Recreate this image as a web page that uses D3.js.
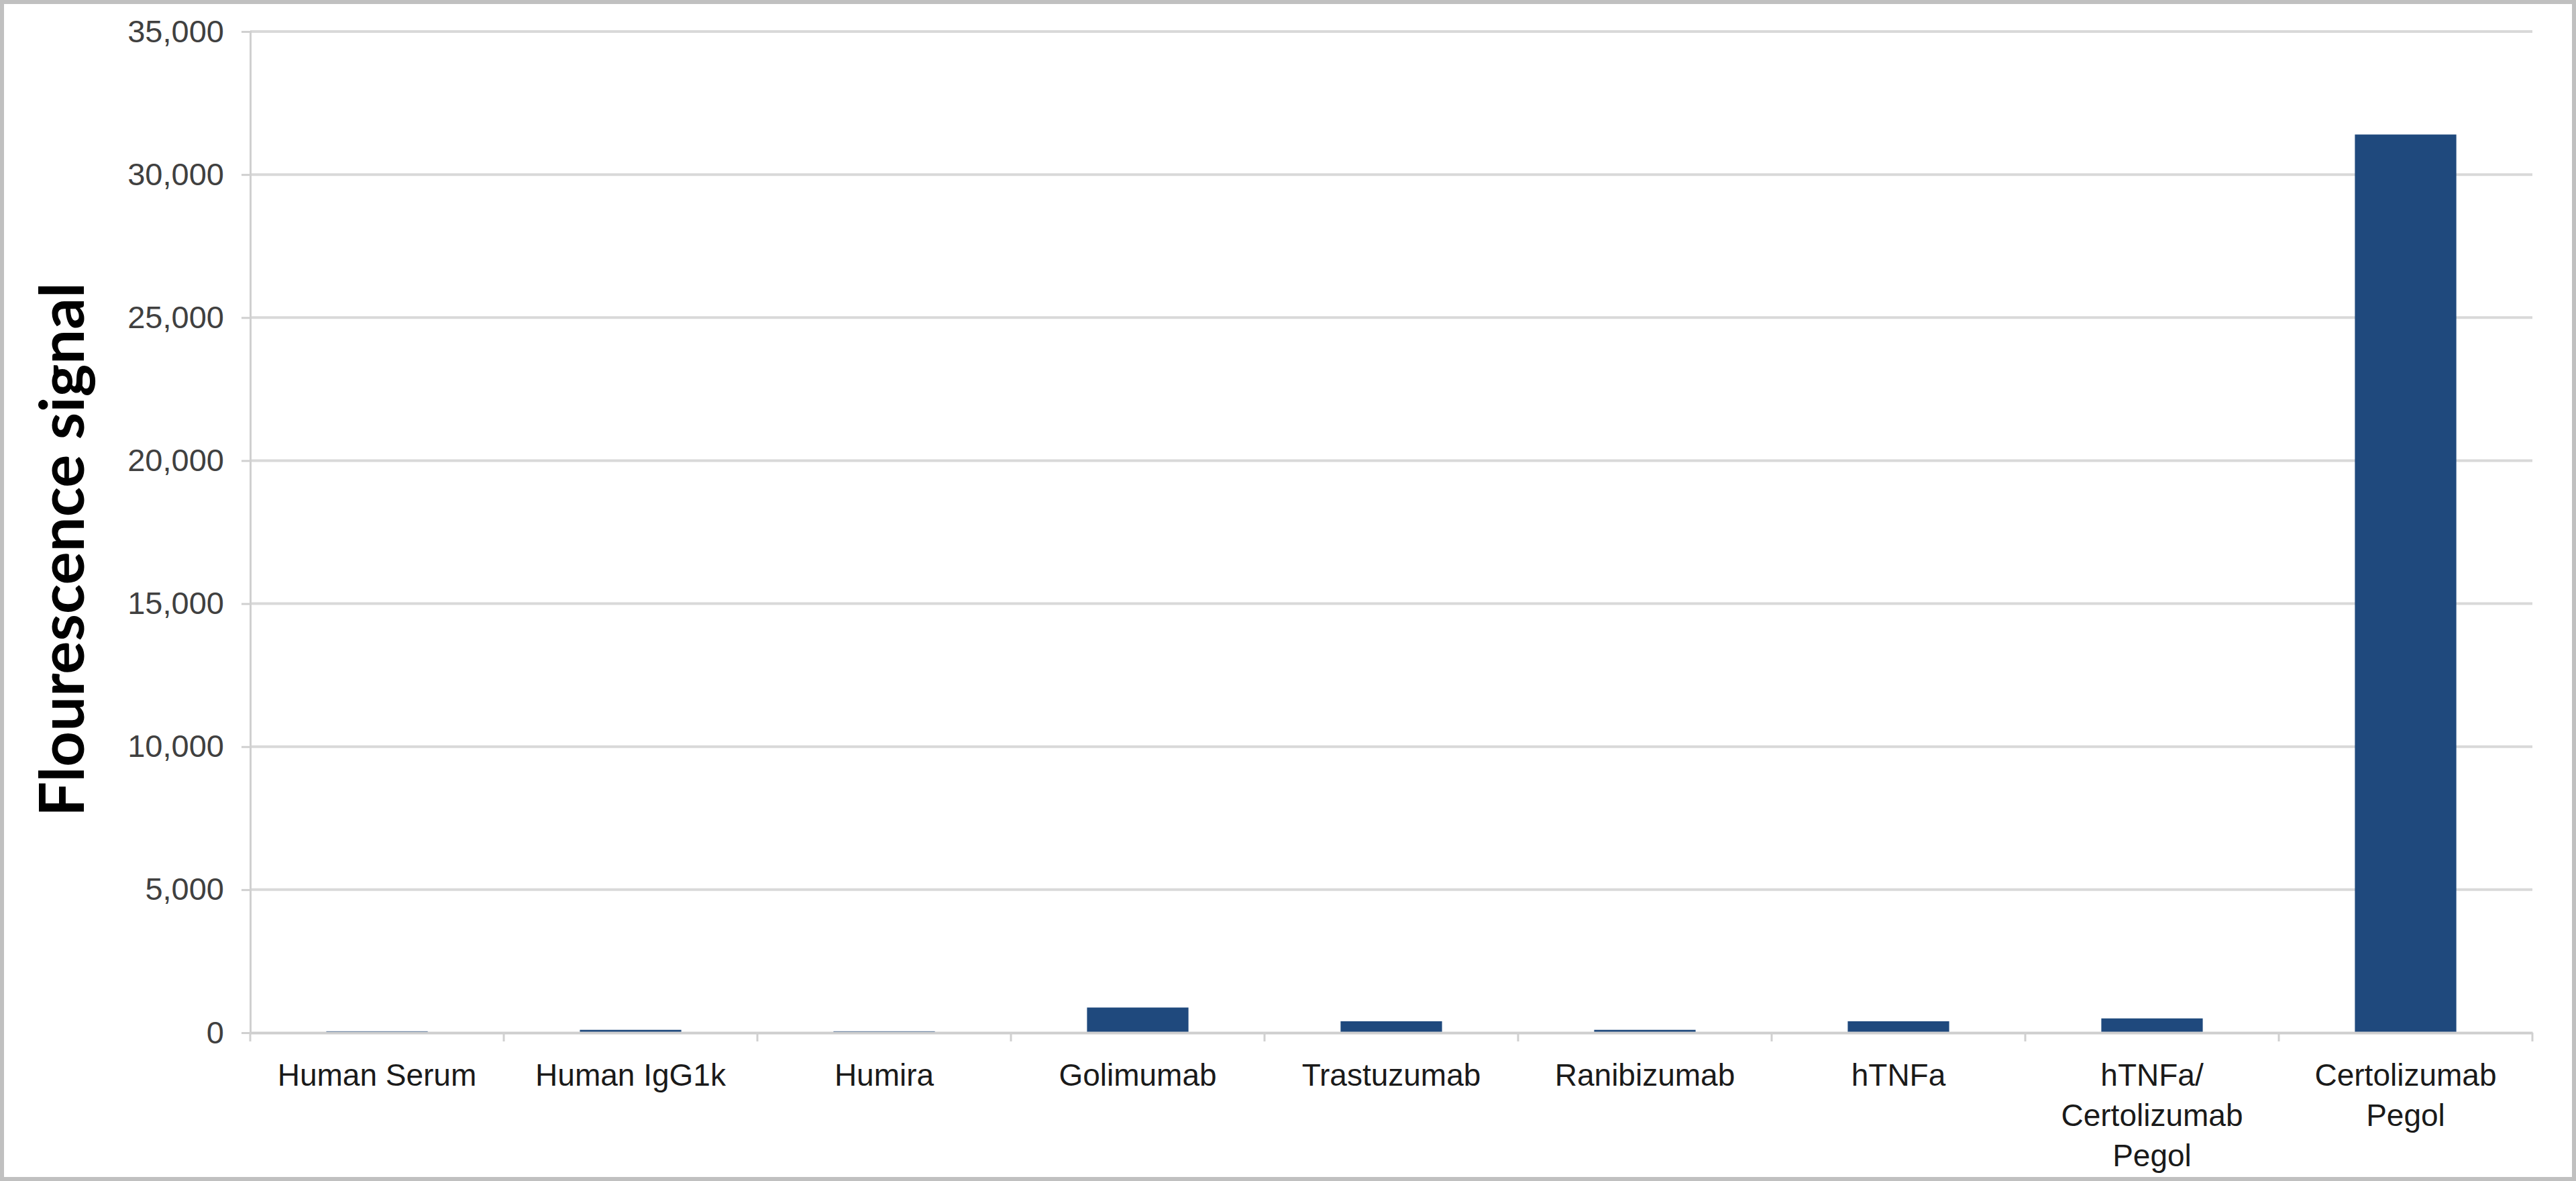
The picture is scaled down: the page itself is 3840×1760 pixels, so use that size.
<!DOCTYPE html>
<html><head><meta charset="utf-8">
<script src="https://cdn.jsdelivr.net/npm/d3@7"></script>
<style>
html,body{margin:0;padding:0;background:#fff;}
svg{display:block;}
</style></head>
<body>
<script>
const categories = [
  ["Human Serum"],
  ["Human IgG1k"],
  ["Humira"],
  ["Golimumab"],
  ["Trastuzumab"],
  ["Ranibizumab"],
  ["hTNFa"],
  ["hTNFa/", "Certolizumab", "Pegol"],
  ["Certolizumab", "Pegol"]
];
const values = [50, 100, 50, 880, 400, 100, 400, 500, 31400];
const yTicks = [0, 5000, 10000, 15000, 20000, 25000, 30000, 35000];
const yTitle = "Flourescence signal";

const W = 3840, H = 1760;
const m = {left: 373, right: 65, top: 47, bottom: 221};

const svg = d3.select("body").append("svg").attr("width", W).attr("height", H);
svg.append("rect").attr("x", 3).attr("y", 3).attr("width", W - 6).attr("height", H - 6)
  .attr("fill", "#fff").attr("stroke", "#c0c0c0").attr("stroke-width", 6);

const keys = categories.map(d => d.join(" "));
const x = d3.scaleBand().domain(keys).range([m.left, W - m.right])
  .paddingInner(0.6).paddingOuter(0.3);
const xb = d3.scaleBand().domain(keys).range([m.left, W - m.right]).padding(0);
const y = d3.scaleLinear().domain([0, 35000]).range([H - m.bottom, m.top]);

// gridlines
svg.append("g").selectAll("line").data(yTicks.filter(d => d > 0)).join("line")
  .attr("x1", m.left).attr("x2", W - m.right)
  .attr("y1", d => y(d)).attr("y2", d => y(d))
  .attr("stroke", "#d9d9d9").attr("stroke-width", 4);

// y axis
const yAxis = d3.axisLeft(y).tickValues(yTicks).tickSize(13).tickPadding(26)
  .tickFormat(d3.format(","));
const gy = svg.append("g").attr("transform", `translate(${m.left},0)`).call(yAxis);
gy.select(".domain").attr("stroke", "#d0d0d0").attr("stroke-width", 3);
gy.selectAll(".tick line").attr("stroke", "#d0d0d0").attr("stroke-width", 3);
gy.selectAll(".tick text").attr("font-family", "'Liberation Sans', Arial, sans-serif")
  .attr("font-size", 47).attr("fill", "#404040");

// bars
svg.append("g").selectAll("rect").data(values).join("rect")
  .attr("x", (d, i) => x(keys[i]))
  .attr("width", x.bandwidth())
  .attr("y", d => y(d))
  .attr("height", d => Math.max(0, y(0) - y(d)))
  .attr("fill", "#1f497d");

// x axis
const xAxis = d3.axisBottom(xb).tickSize(0).tickFormat("");
const gx = svg.append("g").attr("transform", `translate(0,${H - m.bottom})`).call(xAxis);
gx.select(".domain").attr("stroke", "#cfcfcf").attr("stroke-width", 4);
// boundary ticks
const bounds = keys.map(k => xb(k)).concat([W - m.right]);
gx.append("g").selectAll("line").data(bounds).join("line")
  .attr("x1", d => d).attr("x2", d => d).attr("y1", 0).attr("y2", 13)
  .attr("stroke", "#d0d0d0").attr("stroke-width", 3);

// category labels
const lab = svg.append("g").attr("font-family", "'Liberation Sans', Arial, sans-serif")
  .attr("font-size", 46).attr("fill", "#1a1a1a").attr("text-anchor", "middle");
categories.forEach((lines, i) => {
  const t = lab.append("text").attr("x", xb(keys[i]) + xb.bandwidth() / 2)
    .attr("y", H - m.bottom + 79);
  lines.forEach((s, j) => t.append("tspan").attr("x", xb(keys[i]) + xb.bandwidth() / 2)
    .attr("dy", j === 0 ? 0 : 60).text(s));
});

// y title
const title = svg.append("text")
  .attr("transform", `translate(125,${(421 + 1217) / 2}) rotate(-90)`)
  .attr("text-anchor", "middle")
  .attr("font-family", "Lato, 'Open Sans', sans-serif").attr("font-weight", "bold")
  .attr("font-size", 80).attr("fill", "#000").text(yTitle);
const len = title.node().getComputedTextLength();
title.attr("font-size", 80 * 796 / len);
</script>
</body></html>
